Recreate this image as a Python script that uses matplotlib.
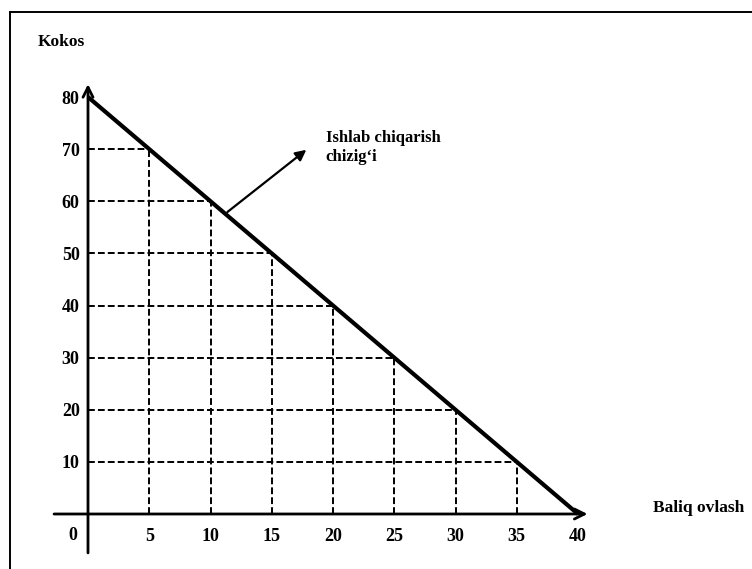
import matplotlib.pyplot as plt
from matplotlib.lines import Line2D

# ishlab chiqarish imkoniyatlari (baliq vs kokos)
baliq = [0, 5, 10, 15, 20, 25, 30, 35, 40]
kokos = [80, 70, 60, 50, 40, 30, 20, 10, 0]
x_ticks = [5, 10, 15, 20, 25, 30, 35, 40]
y_ticks = [10, 20, 30, 40, 50, 60, 70, 80]

plt.rcParams['font.family'] = ['Liberation Serif', 'DejaVu Serif']
plt.rcParams['font.weight'] = 'bold'

fig = plt.figure(figsize=(7.52, 5.69), dpi=100)
ax = fig.add_axes([88/752, 55/569, 490/752, 417/569])
ax.set_xlim(0, 40)
ax.set_ylim(0, 80)
for s in ax.spines.values():
    s.set_visible(False)

ax.set_xticks(x_ticks)
ax.set_xticklabels([str(v) for v in x_ticks])
ax.set_yticks(y_ticks)
ax.set_yticklabels([str(v) for v in y_ticks])
ax.tick_params(axis='x', length=0, pad=10, labelsize=13)
ax.tick_params(axis='y', length=0, pad=6, labelsize=13)

# dashed guide lines
dash = (0, (3.5, 1.6))
for bx, ky in zip(baliq[1:-1], kokos[1:-1]):
    ax.hlines(ky, 0, bx, colors='black', linestyles=dash, lw=1.4)
    ax.vlines(bx, 0, ky, colors='black', linestyles=dash, lw=1.4)

# production line
ax.plot(baliq, kokos, color='black', lw=3, solid_capstyle='butt', clip_on=False)

# axes with arrows
ax.annotate('', xy=(0, 83), xytext=(0, -8), annotation_clip=False,
            arrowprops=dict(arrowstyle='->', lw=2, color='black', mutation_scale=18))
ax.annotate('', xy=(41, 0), xytext=(-3, 0), annotation_clip=False,
            arrowprops=dict(arrowstyle='->', lw=2, color='black', mutation_scale=18))

ax.text(-0.9, -4.1, '0', ha='right', va='center', fontsize=13)
ax.text(-4.1, 90.6, 'Kokos', ha='left', va='center', fontsize=12.5)
ax.text(46.1, 1.2, 'Baliq ovlash', ha='left', va='center', fontsize=12.5)

# label arrow
ax.annotate('', xy=(18, 70.2), xytext=(11.2, 57.6), annotation_clip=False,
            arrowprops=dict(arrowstyle='-|>', lw=1.6, color='black', mutation_scale=16))
ax.text(19.4, 70.4, 'Ishlab chiqarish\nchizig\u2018i', ha='left', va='center',
        fontsize=12, linespacing=1.25)

# frame of the scanned figure
fig.add_artist(Line2D([10/752, 1], [1 - 12/569, 1 - 12/569], color='black', lw=1.4))
fig.add_artist(Line2D([10/752, 10/752], [0, 1 - 12/569], color='black', lw=1.4))

fig.savefig('out.png', dpi=100)
